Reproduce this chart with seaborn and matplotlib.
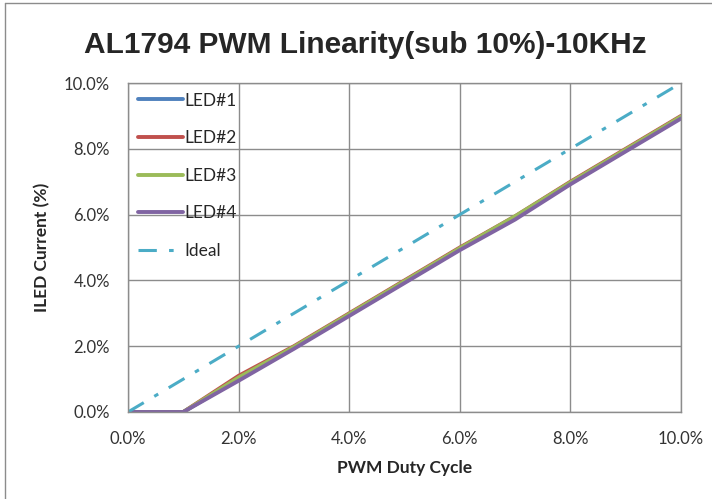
import pandas as pd
import seaborn as sns
import matplotlib.pyplot as plt
from matplotlib.lines import Line2D
from matplotlib.ticker import FuncFormatter

# duty cycle (%) and measured ILED current (%)
duty = [0, 0.5, 1, 2, 3, 4, 5, 6, 7, 8, 9, 10]
led1 = [0, 0, 0, 1.00, 1.95, 2.95, 3.95, 4.95, 5.90, 6.95, 7.95, 8.95]
led2 = [0, 0, 0, 1.10, 2.00, 3.00, 4.00, 5.00, 5.95, 7.00, 8.00, 9.00]
led3 = [0, 0, 0, 1.05, 1.98, 2.98, 3.98, 4.98, 5.95, 6.98, 7.98, 8.98]
led4 = [0, 0, 0, 0.95, 1.92, 2.92, 3.92, 4.92, 5.85, 6.92, 7.92, 8.92]
ideal = [0, 10]
ideal_x = [0, 10]

series_names = ["LED#1", "LED#2", "LED#3", "LED#4"]
colors = ["#4F81BD", "#C0504D", "#9BBB59", "#8064A2"]

df = pd.DataFrame({"duty": duty, "LED#1": led1, "LED#2": led2, "LED#3": led3, "LED#4": led4})
df_long = df.melt(id_vars="duty", var_name="led", value_name="current")

sns.set_style("white")
plt.rcParams["font.family"] = ["Lato", "DejaVu Sans"]

fig = plt.figure(figsize=(7.12, 4.99), dpi=100)
ax = fig.add_axes([128 / 712, 1 - 412 / 499, (681 - 128) / 712, (412 - 83) / 499])

sns.lineplot(data=df_long, x="duty", y="current", hue="led", hue_order=series_names,
             palette=colors, linewidth=2.8, ax=ax, legend=False)
ax.plot(ideal_x, ideal, color="#4BACC6", linewidth=2.2, linestyle=(0, (6, 4, 1.5, 4)))

ax.set_xlim(0, 10)
ax.set_ylim(0, 10)
ax.set_xticks([0, 2, 4, 6, 8, 10])
ax.set_yticks([0, 2, 4, 6, 8, 10])
fmt = FuncFormatter(lambda v, p: f"{v:.1f}%")
ax.xaxis.set_major_formatter(fmt)
ax.yaxis.set_major_formatter(fmt)
ax.tick_params(labelsize=12, colors="#333333", length=0)
ax.tick_params(axis="x", pad=14)
ax.tick_params(axis="y", pad=13)
ax.grid(True, color="#8c8c8c", linewidth=1)
for s in ax.spines.values():
    s.set_color("#8c8c8c")
    s.set_linewidth(1)

ax.set_xlabel("PWM Duty Cycle", fontsize=12.5, fontweight="bold", labelpad=9)
ax.set_ylabel("ILED Current (%)", fontsize=12.5, fontweight="bold", labelpad=10)
fig.text(365 / 712, 1 - 45 / 499, "AL1794 PWM Linearity(sub 10%)-10KHz",
         fontsize=21.5, fontweight="bold", ha="center", va="center",
         family=["Liberation Sans", "DejaVu Sans"])

handles = [Line2D([], [], color=c, linewidth=2.8) for c in colors]
handles.append(Line2D([], [], color="#4BACC6", linewidth=2.2, linestyle=(0, (6, 4, 1.5, 4))))
ax.legend(handles, series_names + ["Ideal"], loc="upper left", bbox_to_anchor=(0, 1),
          frameon=False, fontsize=12.5, handlelength=2.6, handletextpad=0.1,
          labelspacing=1.24, borderaxespad=0.2, borderpad=0.35)

# chart area border (left and top edge)
fig.add_artist(Line2D([5 / 712, 5 / 712], [0, 1 - 3 / 499], color="#8c8c8c", linewidth=1))
fig.add_artist(Line2D([5 / 712, 1], [1 - 3 / 499, 1 - 3 / 499], color="#8c8c8c", linewidth=1))

fig.savefig("out.png", dpi=100)
